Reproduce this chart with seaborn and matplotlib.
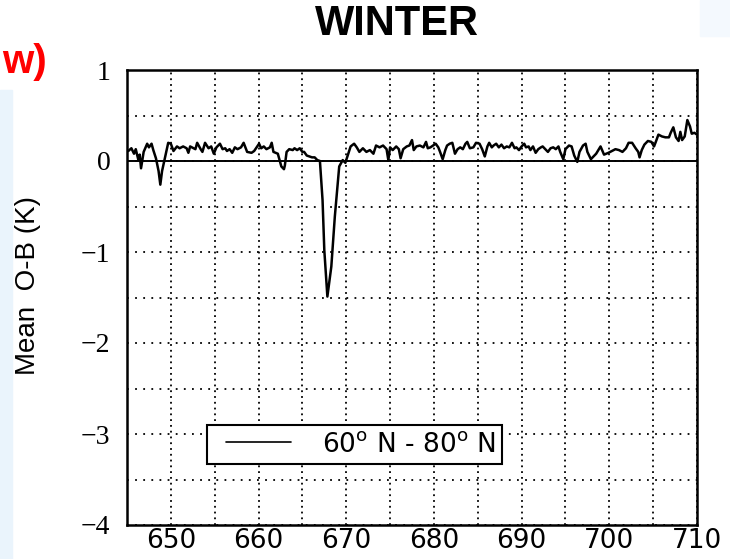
import matplotlib
matplotlib.use("Agg")
import matplotlib.pyplot as plt
import seaborn as sns
import pandas as pd
from matplotlib.patches import Rectangle
from matplotlib.ticker import MultipleLocator
from matplotlib.legend_handler import HandlerLine2D
from matplotlib.lines import Line2D

# ---- data ----
wavenumber = [
    645.15, 645.5, 645.8, 646.0, 646.3, 646.45, 646.6, 646.9, 647.3, 647.5,
    647.8, 648.0, 648.3, 648.6, 648.8, 649.0, 649.4, 649.7, 650.0, 650.3,
    650.7, 651.0, 651.4, 651.8, 652.0, 652.2, 652.8, 653.0, 653.4, 653.6,
    653.9, 654.3, 654.6, 654.9, 655.2, 655.6, 655.9, 656.2, 656.4, 656.7,
    657.0, 657.3, 657.6, 658.0, 658.3, 658.7, 659.2, 659.5, 660.06, 660.3,
    660.6, 660.9, 661.3, 661.5, 661.7, 662.2, 662.4, 662.6, 662.9, 663.0,
    663.2, 663.5, 663.9, 664.1, 664.4, 664.7, 665.0, 665.2, 665.5, 666.1,
    666.4, 666.7, 667.0, 667.3, 667.5, 667.85, 668.3, 668.7, 669.2, 669.6,
    669.9, 670.2, 670.5, 670.9, 671.2, 671.5, 671.9, 672.3, 672.7, 673.1,
    673.4, 673.8, 674.2, 674.6, 674.8, 675.0, 675.3, 675.7, 676.0, 676.2,
    676.5, 676.9, 677.2, 677.5, 677.7, 678.0, 678.4, 678.8, 679.1, 679.3,
    679.6, 679.9, 680.2, 680.5, 680.7, 681.0, 681.3, 681.5, 681.8, 682.1,
    682.4, 682.7, 683.0, 683.3, 683.6, 683.8, 684.1, 684.5, 684.8, 685.2,
    685.5, 685.8, 686.1, 686.3, 686.6, 686.8, 687.1, 687.4, 687.7, 688.0,
    688.3, 688.6, 688.9, 689.2, 689.4, 689.7, 690.0, 690.3, 690.5, 690.8,
    691.0, 691.3, 691.6, 691.9, 692.2, 692.4, 692.7, 693.0, 693.3, 693.6,
    693.9, 694.2, 694.4, 694.75, 695.0, 695.4, 695.7, 696.0, 696.35, 696.6,
    697.0, 697.3, 697.5, 697.9, 698.5, 699.0, 699.4, 699.9, 700.3, 700.7,
    701.1, 701.5, 701.9, 702.2, 702.6, 703.0, 703.3, 703.45, 703.7, 704.0,
    704.4, 704.8, 705.1, 705.3, 705.6, 706.0, 706.4, 706.8, 707.0, 707.3,
    707.6, 707.9, 708.1, 708.3, 708.6, 708.9, 709.2, 709.4, 709.7, 710.0,
]
mean_omb = [
    0.11, 0.14, 0.08, 0.13, 0.01, 0.07, -0.08, 0.10, 0.19, 0.15,
    0.19, 0.12, 0.03, -0.11, -0.26, -0.11, 0.07, 0.20, 0.19, 0.11,
    0.16, 0.14, 0.16, 0.14, 0.09, 0.16, 0.13, 0.20, 0.13, 0.10,
    0.20, 0.14, 0.16, 0.08, 0.15, 0.19, 0.13, 0.14, 0.11, 0.13,
    0.09, 0.15, 0.13, 0.15, 0.20, 0.10, 0.09, 0.11, 0.19, 0.14,
    0.16, 0.13, 0.15, 0.20, 0.10, 0.08, 0.01, -0.06, -0.09, -0.05,
    0.10, 0.13, 0.12, 0.14, 0.12, 0.14, 0.10, 0.10, 0.06, 0.04,
    0.04, 0.01, 0.00, -0.43, -0.98, -1.49, -1.16, -0.61, -0.06, 0.01,
    -0.02, 0.07, 0.16, 0.19, 0.15, 0.10, 0.14, 0.10, 0.12, 0.08,
    0.17, 0.15, 0.17, 0.13, 0.01, 0.15, 0.12, 0.16, 0.13, 0.03,
    0.13, 0.16, 0.17, 0.23, 0.12, 0.16, 0.17, 0.15, 0.21, 0.14,
    0.15, 0.17, 0.19, 0.15, 0.10, 0.02, 0.12, 0.17, 0.19, 0.20,
    0.08, 0.13, 0.15, 0.13, 0.19, 0.21, 0.14, 0.15, 0.20, 0.19,
    0.13, 0.05, 0.16, 0.20, 0.15, 0.17, 0.19, 0.15, 0.18, 0.14,
    0.16, 0.15, 0.20, 0.14, 0.15, 0.12, 0.16, 0.19, 0.15, 0.16,
    0.12, 0.16, 0.09, 0.13, 0.15, 0.16, 0.13, 0.10, 0.14, 0.15,
    0.13, 0.16, 0.10, 0.02, 0.13, 0.17, 0.16, 0.06, -0.01, 0.10,
    0.17, 0.19, 0.10, 0.02, 0.08, 0.16, 0.07, 0.09, 0.11, 0.13,
    0.12, 0.10, 0.14, 0.20, 0.20, 0.14, 0.10, 0.04, 0.12, 0.18,
    0.22, 0.21, 0.16, 0.21, 0.29, 0.27, 0.26, 0.26, 0.31, 0.37,
    0.26, 0.22, 0.32, 0.23, 0.27, 0.45, 0.38, 0.30, 0.31, 0.29,
]
x_ticks = [650, 660, 670, 680, 690, 700, 710]
y_ticks = [1, 0, -1, -2, -3, -4]
y_tick_labels = ["1", "0", "\u22121", "\u22122", "\u22123", "\u22124"]
title_text = "WINTER"
ylabel_text = "Mean  O-B (K)"
legend_label = r"60$^{\mathrm{o}}$ N - 80$^{\mathrm{o}}$ N"
slide_fragment = "w)"

df = pd.DataFrame({"wavenumber": wavenumber, "omb": mean_omb})

sns.set_theme(style="white")
plt.rcParams["font.family"] = ["DejaVu Sans"]
plt.rcParams["mathtext.fontset"] = "dejavusans"
plt.rcParams["text.color"] = "black"

fig = plt.figure(figsize=(7.3, 5.59), dpi=100, facecolor="white")

# light slide background pieces
fig.patches.append(Rectangle((0, 0), 12 / 730, (559 - 90) / 559,
                             transform=fig.transFigure, color="#EAF4FC", zorder=-5))
fig.patches.append(Rectangle((700 / 730, 1 - 36 / 559), 30 / 730, 36 / 559,
                             transform=fig.transFigure, color="#F4F9FE", zorder=-5))

ax = fig.add_axes([127 / 730, 34 / 559, 570 / 730, 455 / 559])
ax.set_facecolor("white")

sns.lineplot(data=df, x="wavenumber", y="omb", color="black", linewidth=1.8,
             sort=False, estimator=None, label=legend_label, ax=ax, zorder=5)

ax.axhline(0, color="black", linewidth=1.4, zorder=4)

ax.set_xlim(645, 710)
ax.set_ylim(-4, 1)
ax.set_xticks(x_ticks)
ax.set_xticklabels([str(t) for t in x_ticks], fontsize=19, family="DejaVu Sans")
ax.set_yticks(y_ticks)
ax.set_yticklabels(y_tick_labels, fontsize=20, family="Liberation Serif")
ax.xaxis.set_minor_locator(MultipleLocator(5))
ax.yaxis.set_minor_locator(MultipleLocator(0.5))
ax.tick_params(which="both", length=0)
ax.tick_params(axis="x", pad=2, colors="black")
ax.tick_params(axis="y", pad=12, colors="black")

ax.xaxis.grid(True, which="both", color="black", linestyle=(0, (1, 2.2)), linewidth=1.3)
ax.yaxis.grid(True, which="both", color="black", linestyle=(0, (1, 3.5)), linewidth=1.3)

for s in ax.spines.values():
    s.set_color("black")
    s.set_linewidth(1.8)

ax.set_xlabel("")
ax.set_ylabel(ylabel_text, family="Liberation Sans", fontsize=20, color="black")
ax.yaxis.set_label_coords(-0.150, 0.527)

fs = 19
leg = ax.legend(loc="upper left", bbox_to_anchor=(0.140, 0.2198), frameon=True,
                fancybox=False, edgecolor="black", fontsize=fs, handlelength=2.93,
                handletextpad=1.17, borderpad=0.25, borderaxespad=0, framealpha=1,
                handler_map={Line2D: HandlerLine2D(xpad=0.47)})
leg.get_frame().set_linewidth(1.5)
for t in leg.get_texts():
    t.set_color("black")
for h in leg.get_lines():
    h.set_linewidth(1.2)

fig.text(397 / 730, 1 - 24 / 559, title_text, ha="center", va="center",
         fontsize=30, fontweight="bold", family="Liberation Sans", color="black")
fig.text(47 / 730, 1 - 62 / 559, slide_fragment, ha="right", va="center",
         fontsize=29, fontweight="bold", family="Liberation Sans", color="red")

fig.savefig("out.png", dpi=100, facecolor="white")
